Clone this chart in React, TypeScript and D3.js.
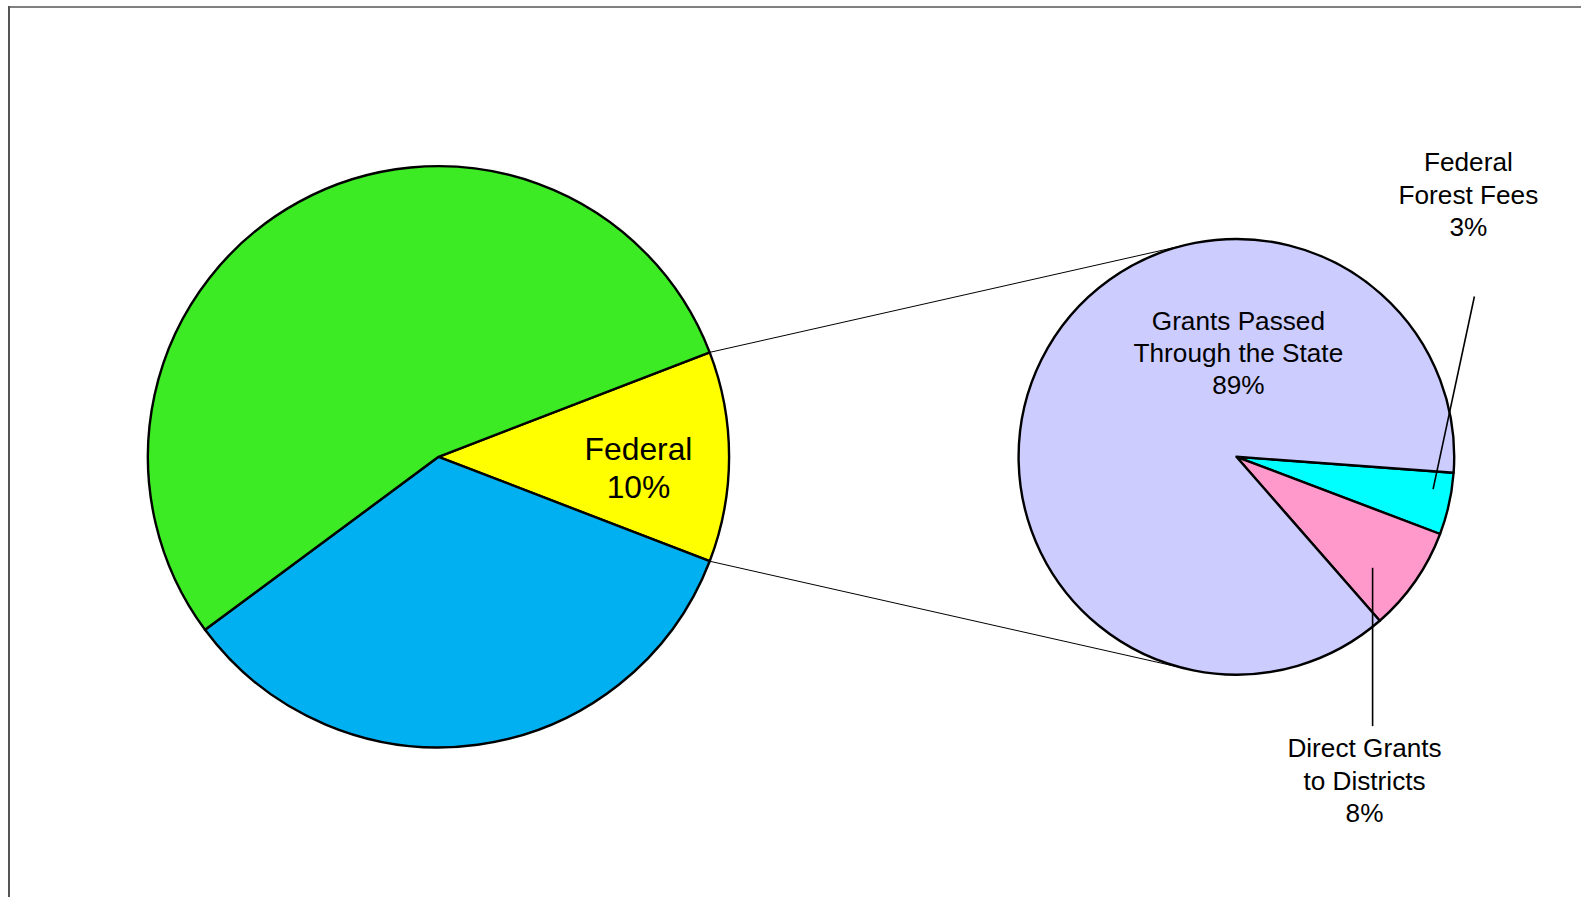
import React from 'react';
import * as d3 from 'd3';

// ---------------- data ----------------
const mainNames = ['Federal', 'Other A', 'Other B'];
const mainShares = [11.7, 34.0, 54.3];
const mainColors = ['#FFFF00', '#00B0F0', '#3DEB24'];
const mainLabelLines = ['Federal', '10%'];

const subNames = ['Federal Forest Fees', 'Direct Grants to Districts', 'Grants Passed Through the State'];
const subShares = [4.6, 7.8, 87.6];
const subColors = ['#00FFFF', '#FF99CC', '#CCCCFF'];
const subLabelLines = [
  ['Federal', 'Forest Fees', '3%'],
  ['Direct Grants', 'to Districts', '8%'],
  ['Grants Passed', 'Through the State', '89%'],
];

// ---------------- layout ----------------
const W = 1581;
const H = 897;
const MAIN = { cx: 438.5, cy: 456.8, r: 290.6 };
const SUB = { cx: 1236.4, cy: 456.8, r: 217.8, start: (94.2 * Math.PI) / 180 };
const FONT = '"Liberation Sans", Arial, Helvetica, sans-serif';

const mainLabel = { x: 638.5, y: 448.8, step: 38.3, size: 31.8 };
const subLabelPos = [
  { x: 1468.4, y: 162.4 },
  { x: 1364.5, y: 748.3 },
  { x: 1238.4, y: 320.7 },
];
const subLabelStep = 32.3;
const subLabelSize = 26.2;
const subLeaders = [
  { x1: 1474.4, y1: 296.5, x2: 1433.1, y2: 489.1 },
  { x1: 1372.6, y1: 726.1, x2: 1372.6, y2: 567.8 },
];

function tangentPoint(px: number, py: number, cx: number, cy: number, r: number, sign: number) {
  const dx = cx - px;
  const dy = cy - py;
  const d = Math.sqrt(dx * dx + dy * dy);
  const base = Math.atan2(dy, dx);
  const a = base + sign * Math.asin(r / d);
  const len = Math.sqrt(d * d - r * r);
  return [px + len * Math.cos(a), py + len * Math.sin(a)];
}

export default function App() {
  const fedAngle = (mainShares[0] / d3.sum(mainShares)) * 2 * Math.PI;
  const mainStart = Math.PI / 2 - fedAngle / 2;
  const mainPie = d3
    .pie<number>()
    .sort(null)
    .value((d) => d)
    .startAngle(mainStart)
    .endAngle(mainStart + 2 * Math.PI);
  const mainArcs = mainPie(mainShares);
  const mainArc = d3.arc<d3.PieArcDatum<number>>().innerRadius(0).outerRadius(MAIN.r);

  const subPie = d3
    .pie<number>()
    .sort(null)
    .value((d) => d)
    .startAngle(SUB.start)
    .endAngle(SUB.start + 2 * Math.PI);
  const subArcs = subPie(subShares);
  const subArc = d3.arc<d3.PieArcDatum<number>>().innerRadius(0).outerRadius(SUB.r);

  const fed = mainArcs[0];
  const edge = (a: number) => [MAIN.cx + MAIN.r * Math.sin(a), MAIN.cy - MAIN.r * Math.cos(a)];
  const pTop = edge(fed.startAngle);
  const pBot = edge(fed.endAngle);
  const tTop = tangentPoint(pTop[0], pTop[1], SUB.cx, SUB.cy, SUB.r, -1);
  const tBot = tangentPoint(pBot[0], pBot[1], SUB.cx, SUB.cy, SUB.r, 1);

  return (
    <svg
      width={W}
      height={H}
      style={{ position: 'fixed', left: 0, top: 0, background: '#fff' }}
      fontFamily={FONT}
    >
      <rect x={0} y={0} width={W} height={H} fill="#fff" />
      {/* frame */}
      <line x1={9} y1={7} x2={W} y2={7} stroke="#808080" strokeWidth={2} />
      <line x1={9} y1={6} x2={9} y2={H} stroke="#555" strokeWidth={2} />

      {/* connectors */}
      <line x1={pTop[0]} y1={pTop[1]} x2={tTop[0]} y2={tTop[1]} stroke="#000" strokeWidth={1} />
      <line x1={pBot[0]} y1={pBot[1]} x2={tBot[0]} y2={tBot[1]} stroke="#000" strokeWidth={1} />

      {/* main pie */}
      <g transform={`translate(${MAIN.cx},${MAIN.cy})`}>
        {mainArcs.map((a, i) => (
          <path key={mainNames[i]} d={mainArc(a) || ''} fill={mainColors[i]} stroke="#000" strokeWidth={2.4} strokeLinejoin="round" />
        ))}
      </g>
      {mainLabelLines.map((t, i) => (
        <text key={t} x={mainLabel.x} y={mainLabel.y + i * mainLabel.step} textAnchor="middle" dominantBaseline="central" fontSize={mainLabel.size} fill="#000">
          {t}
        </text>
      ))}

      {/* secondary pie */}
      <g transform={`translate(${SUB.cx},${SUB.cy})`}>
        {subArcs.map((a, i) => (
          <path key={subNames[i]} d={subArc(a) || ''} fill={subColors[i]} stroke="#000" strokeWidth={2.4} strokeLinejoin="round" />
        ))}
      </g>

      {/* leader lines */}
      {subLeaders.map((l, i) => (
        <line key={i} x1={l.x1} y1={l.y1} x2={l.x2} y2={l.y2} stroke="#000" strokeWidth={1.6} />
      ))}

      {/* secondary labels */}
      {subLabelLines.map((lines, i) => (
        <g key={subNames[i]}>
          {lines.map((t, j) => (
            <text key={t} x={subLabelPos[i].x} y={subLabelPos[i].y + j * subLabelStep} textAnchor="middle" dominantBaseline="central" fontSize={subLabelSize} fill="#000">
              {t}
            </text>
          ))}
        </g>
      ))}
    </svg>
  );
}
